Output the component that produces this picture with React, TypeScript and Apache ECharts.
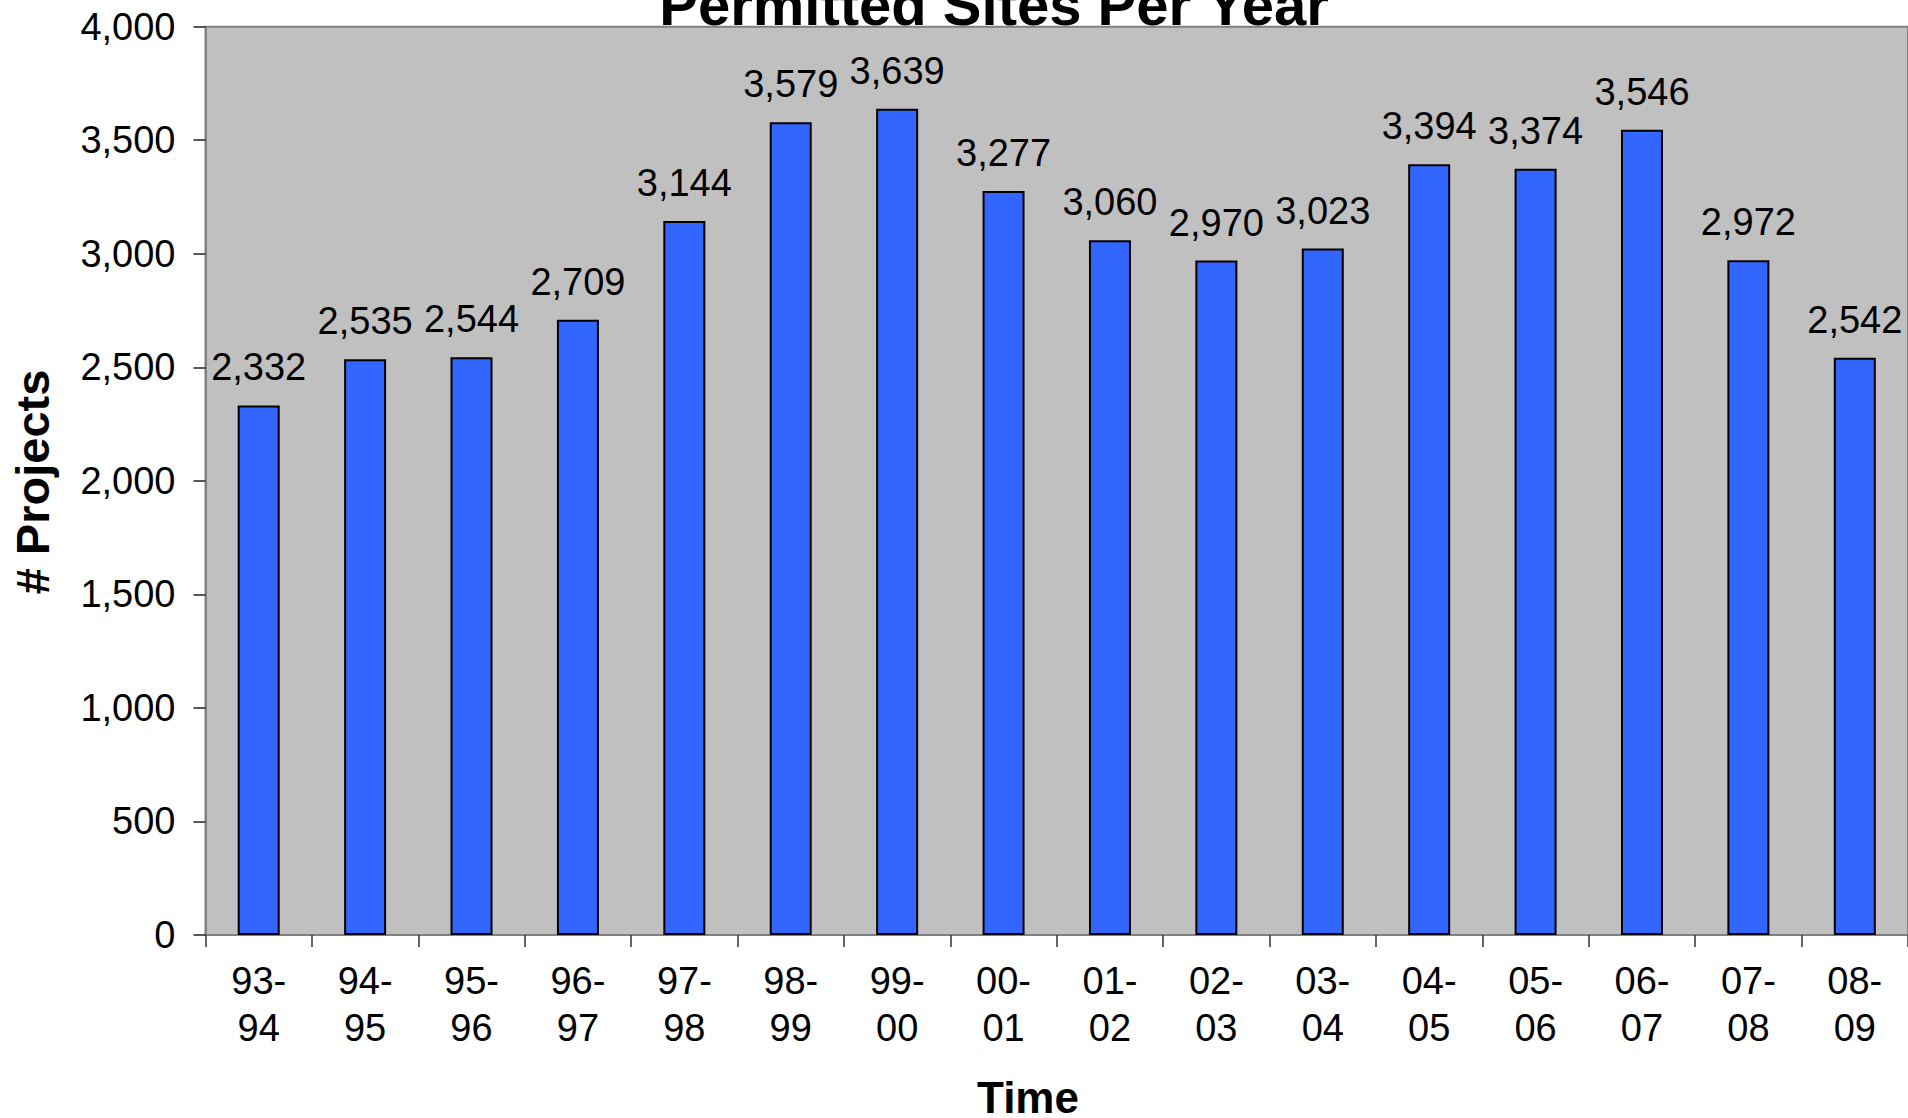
import React, { useEffect, useRef } from "react";
import * as echarts from "echarts";

const categories = [
  "93-\n94", "94-\n95", "95-\n96", "96-\n97", "97-\n98", "98-\n99", "99-\n00", "00-\n01",
  "01-\n02", "02-\n03", "03-\n04", "04-\n05", "05-\n06", "06-\n07", "07-\n08", "08-\n09",
];
const projects = [2332, 2535, 2544, 2709, 3144, 3579, 3639, 3277, 3060, 2970, 3023, 3394, 3374, 3546, 2972, 2542];
const yMin = 0;
const yMax = 4000;
const yInterval = 500;

const titleText = "Permitted Sites Per Year";
const xName = "Time";
const yName = "# Projects";

const FONT = 'Arial, "Liberation Sans", Helvetica, sans-serif';
const fmt = (v: number) => Number(v).toLocaleString("en-US");

export default function App() {
  const ref = useRef<HTMLDivElement>(null);
  useEffect(() => {
    if (!ref.current) return;
    const chart = echarts.init(ref.current, undefined, { renderer: "svg" });
    chart.setOption({
      animation: false,
      backgroundColor: "#ffffff",
      textStyle: { fontFamily: FONT },
      grid: {
        left: 205.5,
        top: 26.7,
        right: -3,
        bottom: 1118 - 935,
        show: true,
        backgroundColor: "#C0C0C0",
        borderColor: "#808080",
        borderWidth: 2,
        containLabel: false,
      },
      xAxis: {
        type: "category",
        data: categories,
        axisLine: { show: true, lineStyle: { color: "#808080", width: 2 } },
        axisTick: { show: true, length: 12, inside: false, lineStyle: { color: "#333333", width: 1.5 } },
        axisLabel: {
          color: "#000",
          fontSize: 38,
          fontFamily: FONT,
          lineHeight: 47,
          margin: 22,
          interval: 0,
        },
        splitLine: { show: false },
      },
      yAxis: {
        type: "value",
        min: yMin,
        max: yMax,
        interval: yInterval,
        axisLine: { show: true, lineStyle: { color: "#808080", width: 2 } },
        axisTick: { show: true, length: 12, lineStyle: { color: "#222222", width: 1.5 } },
        axisLabel: {
          color: "#000",
          fontSize: 38,
          fontFamily: FONT,
          margin: 30,
          formatter: (v: number) => fmt(v),
        },
        splitLine: { show: false },
      },
      series: [
        {
          type: "bar",
          data: projects,
          barWidth: 42,
          itemStyle: { color: "#3366FF", borderColor: "#000", borderWidth: 2 },
          label: {
            show: true,
            position: "top",
            distance: 19,
            color: "#000",
            fontSize: 38,
            fontFamily: FONT,
            formatter: (p: any) => fmt(p.value),
          },
        },
      ],
      graphic: [
        {
          type: "text",
          x: 994,
          y: 4,
          style: {
            text: titleText,
            font: `bold 58px ${FONT}`,
            fill: "#000",
            textAlign: "center",
            textVerticalAlign: "middle",
          },
          z: 1,
        },
        {
          type: "text",
          x: 1028,
          y: 1097,
          style: {
            text: xName,
            font: `bold 44px ${FONT}`,
            fill: "#000",
            textAlign: "center",
            textVerticalAlign: "middle",
          },
        },
        {
          type: "text",
          x: 32,
          y: 482,
          rotation: Math.PI / 2,
          style: {
            text: yName,
            font: `bold 47px ${FONT}`,
            fill: "#000",
            textAlign: "center",
            textVerticalAlign: "middle",
          },
        },
      ],
    });
    return () => chart.dispose();
  }, []);
  return (
    <div
      ref={ref}
      style={{ position: "fixed", left: 0, top: 0, width: 1908, height: 1118, overflow: "hidden" }}
    />
  );
}
